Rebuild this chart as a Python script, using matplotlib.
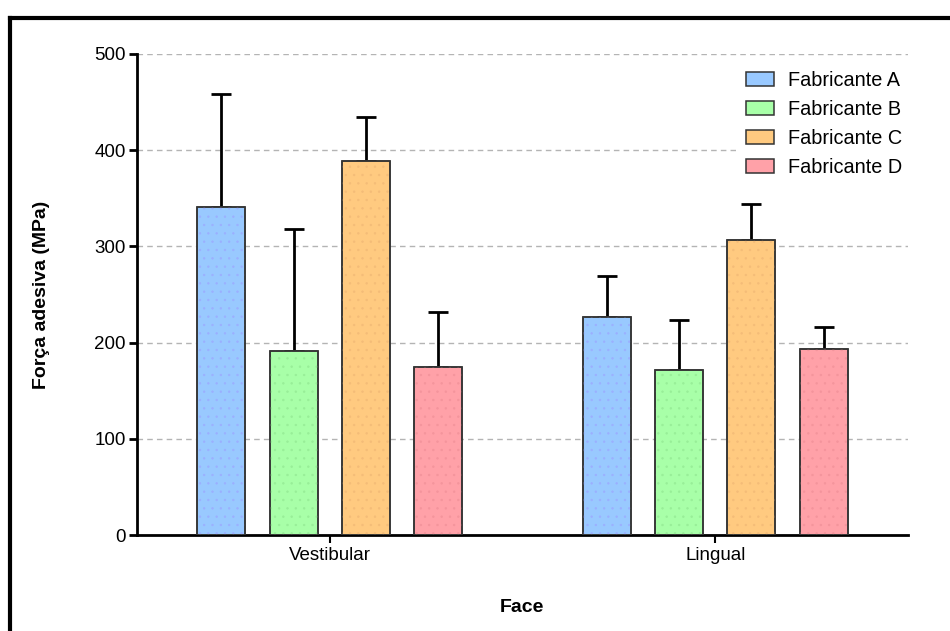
import numpy as np
import matplotlib
matplotlib.use("Agg")
from matplotlib import pyplot as plt
from matplotlib.lines import Line2D

plt.rcParams['font.family'] = ['Liberation Sans', 'DejaVu Sans']
plt.rcParams['hatch.linewidth'] = 0.5

# data
faces = ["Vestibular", "Lingual"]
makers = ["Fabricante A", "Fabricante B", "Fabricante C", "Fabricante D"]
means = {
    "Fabricante A": [341, 227],
    "Fabricante B": [191, 171],
    "Fabricante C": [389, 307],
    "Fabricante D": [175, 193],
}
errors = {
    "Fabricante A": [117, 42],
    "Fabricante B": [127, 52],
    "Fabricante C": [45, 37],
    "Fabricante D": [57, 23],
}
yticks = [0, 100, 200, 300, 400, 500]

colors = ["#99c9ff", "#a8ffa8", "#ffca80", "#ffa1a8"]
hatch_cols = ["#9bb0ff", "#98ee98", "#f4bc78", "#f4949c"]

fig = plt.figure(figsize=(9.5, 6.31), dpi=100)
ax = fig.add_axes([137 / 950, 1 - 535 / 631, (908 - 137) / 950, (535 - 54) / 631])

x = np.arange(len(faces))
pitch = 0.1875
width = 0.125

for i, m in enumerate(makers):
    pos = x + (i - 1.5) * pitch
    ax.errorbar(pos, means[m], yerr=[np.zeros(len(faces)), errors[m]],
                fmt="none", ecolor="black", elinewidth=2, capsize=7,
                capthick=2, zorder=2)
    ax.bar(pos, means[m], width, color=colors[i], edgecolor="#333333",
           linewidth=1.1, label=m, zorder=3)
    ax.bar(pos, means[m], width, fill=False, hatch="..",
           edgecolor=hatch_cols[i], linewidth=0, zorder=3)
    ax.bar(pos, means[m], width, fill=False, edgecolor="#333333",
           linewidth=1.1, zorder=4)

ax.set_xlim(-0.5, 1.5)
ax.set_ylim(0, 500)
ax.set_yticks(yticks)
ax.set_xticks(x)
ax.set_xticklabels(faces, fontsize=13.5)
ax.tick_params(axis="y", labelsize=13.5, length=6, width=2, pad=2)
ax.tick_params(axis="x", length=6, width=1.5, pad=3)

for s in ["top", "right"]:
    ax.spines[s].set_visible(False)
for s in ["left", "bottom"]:
    ax.spines[s].set_linewidth(2)

ax.yaxis.grid(True, linestyle=(0, (4, 3)), color="#b4b4b4", linewidth=1)
ax.set_axisbelow(True)

ax.set_ylabel("Força adesiva (MPa)", fontsize=14, fontweight="bold")
ax.yaxis.set_label_coords(-(137 - 50) / (908 - 137), 0.5)
ax.set_xlabel("Face", fontsize=14, fontweight="bold")
ax.xaxis.set_label_coords((522 - 137) / (908 - 137), -(599 - 535) / (535 - 54))

leg = ax.legend(loc="upper left", bbox_to_anchor=(736 / 950, 1 - 61 / 631),
                bbox_transform=fig.transFigure, fontsize=14.3, frameon=True,
                edgecolor="none", facecolor="white", framealpha=1,
                fancybox=False, borderpad=0.5, borderaxespad=0,
                handlelength=1.4, handleheight=0.72, handletextpad=0.72,
                labelspacing=0.5)
for h in leg.legend_handles:
    h.set_edgecolor("#333333")

# outer frame of the original graphic
fy = 1 - 18 / 631
fx = 10 / 950
fig.add_artist(Line2D([fx, fx], [0, fy], color="black", linewidth=3,
                      transform=fig.transFigure, solid_capstyle="projecting"))
fig.add_artist(Line2D([fx, 1], [fy, fy], color="black", linewidth=3,
                      transform=fig.transFigure, solid_capstyle="projecting"))

fig.savefig("out.png", dpi=100)
